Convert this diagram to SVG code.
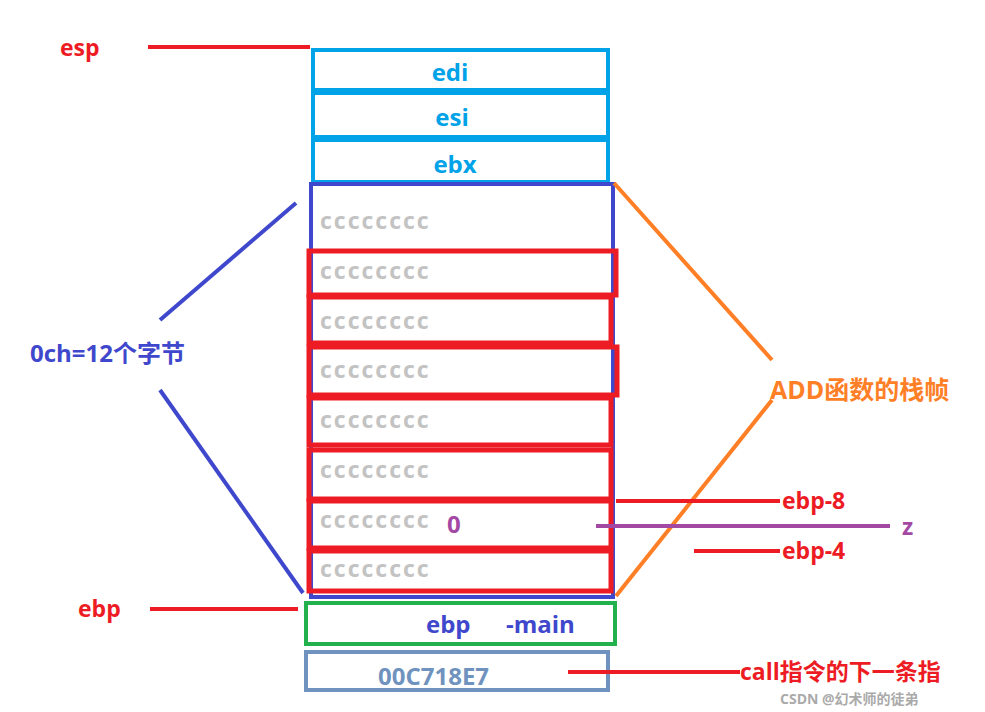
<svg xmlns="http://www.w3.org/2000/svg" width="985" height="712" viewBox="0 0 985 712">
<style>
text{font-family:"Open Sans","Noto Sans CJK SC",sans-serif;font-weight:bold}
.lb{fill:none;stroke:#00a2e8;stroke-width:4}
.red{fill:none;stroke:#ed1c24;stroke-width:5}
.c{fill:#c3c3c3;font-size:23px;letter-spacing:2px}
.rt{fill:#ed1c24;font-size:23px}
</style>
<rect width="985" height="712" fill="#fff"/>
<g id="edi"><rect class="lb" x="313" y="50" width="295" height="40"/><text x="450" y="81" fill="#00a2e8" font-size="24" text-anchor="middle">edi</text></g>
<g id="esi"><rect class="lb" x="313" y="93" width="295" height="44"/><text x="452" y="126" fill="#00a2e8" font-size="24" text-anchor="middle">esi</text></g>
<g id="ebx"><rect class="lb" x="313" y="140" width="295" height="42"/><text x="455" y="173" fill="#00a2e8" font-size="24" text-anchor="middle">ebx</text></g>
<g id="frame"><rect x="311" y="184" width="302" height="413" fill="none" stroke="#3f48cc" stroke-width="4"/></g>
<g id="rows">
<rect class="red" x="309" y="251" width="307" height="44"/>
<rect class="red" x="309" y="297" width="302" height="46"/>
<rect class="red" x="309" y="347" width="308" height="48"/>
<rect class="red" x="309" y="398" width="302" height="47"/>
<rect class="red" x="309" y="450" width="302" height="49"/>
<rect class="red" x="309" y="501" width="302" height="47"/>
<rect class="red" x="309" y="551" width="302" height="40"/>
<text class="c" x="320" y="229">cccccccc</text>
<text class="c" x="320" y="279">cccccccc</text>
<text class="c" x="320" y="329">cccccccc</text>
<text class="c" x="320" y="378">cccccccc</text>
<text class="c" x="320" y="428">cccccccc</text>
<text class="c" x="320" y="478">cccccccc</text>
<text class="c" x="320" y="528">cccccccc</text>
<text class="c" x="320" y="577">cccccccc</text>
<text x="447" y="533" fill="#a349a4" font-size="24">0</text>
</g>
<g id="ebpmain"><rect x="306" y="603" width="309" height="41" fill="none" stroke="#22b14c" stroke-width="4"/><text x="426" y="633" fill="#3f48cc" font-size="24">ebp</text><text x="506" y="633" fill="#3f48cc" font-size="24">-main</text></g>
<g id="ret"><rect x="306" y="652" width="302" height="38" fill="none" stroke="#7092be" stroke-width="4"/><text x="378" y="685" fill="#7092be" font-size="24">00C718E7</text></g>
<g id="connectors" stroke-width="4" fill="none">
<line x1="148" y1="47" x2="310" y2="47" stroke="#ed1c24"/>
<line x1="150" y1="609" x2="298" y2="609" stroke="#ed1c24"/>
<line x1="160" y1="320" x2="296" y2="203" stroke="#3f48cc"/>
<line x1="160" y1="390" x2="303" y2="593" stroke="#3f48cc"/>
<line x1="614" y1="183" x2="772" y2="360" stroke="#ff7f27"/>
<line x1="772" y1="400" x2="616" y2="596" stroke="#ff7f27"/>
<line x1="616" y1="501" x2="780" y2="501" stroke="#ed1c24"/>
<line x1="694" y1="551" x2="780" y2="551" stroke="#ed1c24"/>
<line x1="596" y1="526" x2="890" y2="526" stroke="#a349a4"/>
<line x1="568" y1="672" x2="740" y2="672" stroke="#ed1c24"/>
</g>
<g id="labels">
<text class="rt" x="60" y="56">esp</text>
<text class="rt" x="78" y="617">ebp</text>
<text x="30" y="362" fill="#3f48cc" font-size="24">0ch=12个字节</text>
<text x="770" y="399" fill="#ff7f27" font-size="25">ADD函数的栈帧</text>
<text class="rt" x="782" y="509">ebp-8</text>
<text class="rt" x="782" y="559">ebp-4</text>
<text x="902" y="535" fill="#a349a4" font-size="23">z</text>
<text class="rt" x="740" y="680" font-size="25">call指令的下一条指</text>
<text x="780" y="704" fill="#aaa" font-size="14" font-weight="normal">CSDN @幻术师的徒弟</text>
</g>
</svg>
